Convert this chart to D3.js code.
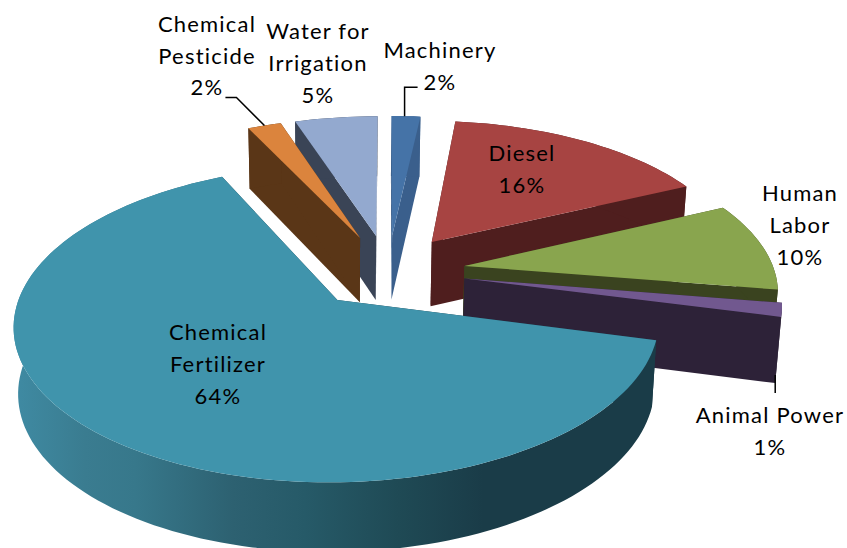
<!DOCTYPE html>
<html>
<head>
<meta charset="utf-8">
<script src="https://cdn.jsdelivr.net/npm/d3@7/dist/d3.min.js"></script>
<style>
	html, body { margin: 0; padding: 0; background: #ffffff; }
	svg { display: block; }
</style>
</head>
<body>
<div class="chart"></div>
<script>
	// Chart values (labels show them rounded)
	var categories = ["Machinery", "Diesel", "Human Labor", "Animal Power", "Chemical Fertilizer", "Chemical Pesticide", "Water for Irrigation"];
	var shares = [1.75, 16.25, 9.55, 1.45, 63.9, 2.05, 5.05];
	var labelLines = [["Machinery", "2%"], ["Diesel", "16%"], ["Human", "Labor", "10%"], ["Animal Power", "1%"],
		["Chemical", "Fertilizer", "64%"], ["Chemical", "Pesticide", "2%"], ["Water for", "Irrigation", "5%"]];
	var topColors = ["#4573a7", "#a74442", "#89a54e", "#71588f", "#4094ac", "#db843d", "#93a9cf"];
	var wallColors = ["#3a5f8c", "#4f1e1e", "#3a431f", "#2d2238", "#1a3c48", "#5a3617", "#3a4456"];

	var width = 847,
		height = 548;

	// pie plane -> screen (perspective), explode is in radius units
	var cx = 388, cy = 271,
		radiusX = 310, radiusY = 146.5,
		tilt = 0.145,
		explode = 0.25,
		depth = 65,
		depthGain = 4,
		shrink = 0.9863,
		shrinkX = 343;

	function project(px, py, lower) {
		var w = 1 - tilt * py;
		var sx = cx + radiusX * px / w,
			sy = cy + radiusY * py / w;
		if (lower) {
			return [shrinkX + (sx - shrinkX) * shrink, sy + depth + depthGain * py];
		}
		return [sx, sy];
	}

	function polar(d, angle, r) {
		var mid = (d.startAngle + d.endAngle) / 2;
		return [explode * Math.sin(mid) + r * Math.sin(angle), -explode * Math.cos(mid) - r * Math.cos(angle)];
	}

	function arcAngles(d) {
		var steps = Math.max(4, Math.ceil((d.endAngle - d.startAngle) / 0.03));
		return d3.range(steps + 1).map(function(i) {
			return d.startAngle + (d.endAngle - d.startAngle) * i / steps;
		});
	}

	function screen(d, angle, r, lower) {
		var p = polar(d, angle, r);
		return project(p[0], p[1], lower);
	}

	var line = d3.line();

	var pie = d3.pie().sort(null).value(function(d) { return d; }).startAngle(0).endAngle(2 * Math.PI);
	var slices = pie(shares);

	var svg = d3.select(".chart")
		.append("svg")
			.attr("width", width)
			.attr("height", height);

	// Side shading of the big slice
	var gradient = svg.append("defs").append("linearGradient")
		.attr("id", "fertilizerWall")
		.attr("gradientUnits", "userSpaceOnUse")
		.attr("x1", 0).attr("x2", width)
		.attr("y1", 0).attr("y2", 0);

	[[0.02, "#3f8aa2"], [0.1, "#3a7c90"], [0.16, "#37788b"], [0.275, "#2d6171"], [0.36, "#265a68"], [0.47, "#1f4a55"], [0.57, "#1a3c48"], [1, "#1a3c48"]]
		.forEach(function(s) {
			gradient.append("stop").attr("offset", s[0]).attr("stop-color", s[1]);
		});

	// back slices first, the big one last
	var drawOrder = [6, 5, 0, 1, 2, 3, 4];

	drawOrder.forEach(function(i) {
		var d = slices[i];
		var g = svg.append("g").attr("class", "slice");
		var angles = arcAngles(d);
		var wallFill = i === 4 ? "url(#fertilizerWall)" : wallColors[i];

		// radial walls
		[d.startAngle, d.endAngle].forEach(function(a) {
			g.append("path")
				.attr("d", line([screen(d, a, 0), screen(d, a, 1), screen(d, a, 1, true), screen(d, a, 0, true)]) + "Z")
				.attr("fill", wallColors[i]);
		});

		// outer wall
		var upper = angles.map(function(a) { return screen(d, a, 1); });
		var below = angles.map(function(a) { return screen(d, a, 1, true); }).reverse();
		g.append("path")
			.attr("d", line(upper.concat(below)) + "Z")
			.attr("fill", wallFill);

		// top face
		g.append("path")
			.attr("d", line([screen(d, 0, 0)].concat(upper)) + "Z")
			.attr("fill", topColors[i]);
	});

	// Leader lines, starting on the slice they belong to
	function leader(i, angle, lower, steps) {
		var start = screen(slices[i], slices[i].startAngle + (slices[i].endAngle - slices[i].startAngle) * angle, 1, lower);
		var points = [start];
		steps.forEach(function(s) {
			var last = points[points.length - 1];
			points.push([last[0] + s[0], last[1] + s[1]]);
		});
		svg.append("path")
			.attr("d", line(points))
			.attr("fill", "none")
			.attr("stroke", "#000000")
			.attr("stroke-width", 1.5);
	}

	leader(0, 0.45, false, [[0, -29], [13, 0]]);
	leader(5, 0.5, false, [[-28, -28], [-11, 0]]);
	leader(3, 1, true, [[0, -8], [0, 18]]);

	// Labels
	var labelPlace = [
		{ x: 440, y: 58, step: 32 },
		{ x: 522, y: 161, step: 32 },
		{ x: 800, y: 201, step: 32 },
		{ x: 770, y: 423, step: 32 },
		{ x: 218, y: 340, step: 32 },
		{ x: 207, y: 32, step: 31.5 },
		{ x: 318, y: 39, step: 32 }
	];

	svg.selectAll("text.label")
		.data(labelLines)
		.enter()
		.append("text")
			.attr("class", "label")
			.attr("font-family", "Lato, sans-serif")
			.attr("font-size", "22px")
			.attr("letter-spacing", "1.2px")
			.attr("fill", "#000000")
			.attr("text-anchor", "middle")
			.each(function(lines, i) {
				d3.select(this).selectAll("tspan")
					.data(lines)
					.enter()
					.append("tspan")
						.attr("x", labelPlace[i].x)
						.attr("y", function(t, n) { return labelPlace[i].y + n * labelPlace[i].step; })
						.text(function(t) { return t; });
			});
</script>
</body>
</html>
